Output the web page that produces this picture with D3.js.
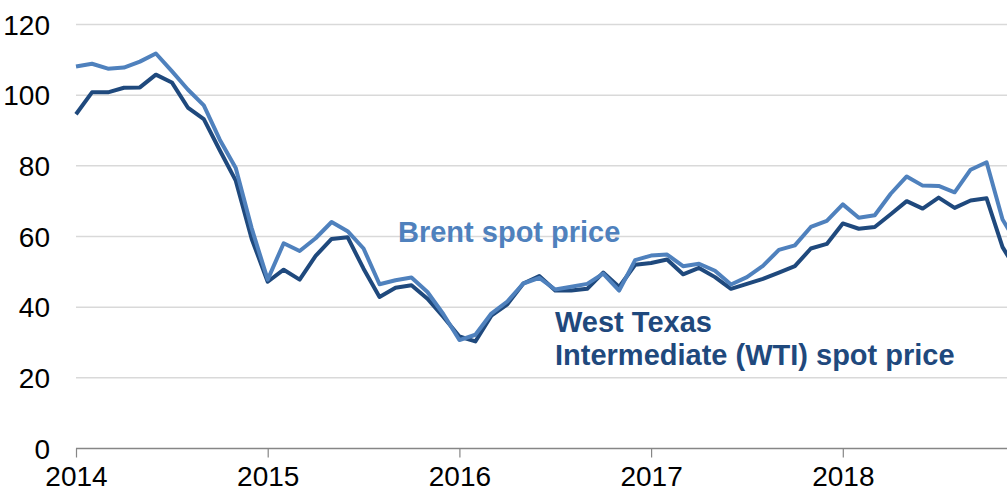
<!DOCTYPE html>
<html>
<head>
<meta charset="utf-8">
<script src="https://cdn.jsdelivr.net/npm/d3@7"></script>
<style>
  body { margin: 0; background: #fff; }
  svg { display: block; font-family: "Liberation Sans", Arial, sans-serif; }
</style>
</head>
<body>
<div id="chart"></div>
<script>
// monthly spot prices, dollars per barrel, Jan 2014 .. Dec 2018
const years = [2014, 2015, 2016, 2017, 2018];
const yTicks = [0, 20, 40, 60, 80, 100, 120];

const brent = [
  108.1, 108.9, 107.5, 107.8, 109.5, 111.8, 106.8, 101.6, 97.1, 87.4, 79.4, 62.3,
  47.8, 58.1, 55.9, 59.5, 64.1, 61.5, 56.6, 46.5, 47.6, 48.4, 44.3, 38.0,
  30.7, 32.2, 38.2, 41.6, 46.7, 48.3, 45.0, 45.8, 46.6, 49.5, 44.7, 53.3,
  54.6, 54.9, 51.6, 52.3, 50.3, 46.4, 48.5, 51.7, 56.2, 57.5, 62.7, 64.4,
  69.1, 65.3, 66.0, 72.1, 77.0, 74.4, 74.3, 72.5, 78.9, 81.0, 64.8, 57.4
];
const wti = [
  94.6, 100.8, 100.8, 102.1, 102.2, 105.8, 103.6, 96.5, 93.2, 84.4, 75.8, 59.3,
  47.2, 50.6, 47.8, 54.5, 59.3, 59.8, 50.9, 42.9, 45.5, 46.2, 42.4, 37.2,
  31.7, 30.3, 37.6, 40.8, 46.7, 48.8, 44.7, 44.7, 45.2, 49.8, 45.7, 52.0,
  52.5, 53.5, 49.3, 51.1, 48.5, 45.2, 46.6, 48.0, 49.8, 51.6, 56.6, 57.9,
  63.7, 62.2, 62.7, 66.3, 70.0, 67.9, 71.0, 68.1, 70.2, 70.8, 57.0, 49.5
];

const W = 1007, H = 494;
const left = 76, zeroY = 448.5, topY = 24.5;
const yearPx = 191.7;

const svg = d3.select("#chart").append("svg")
  .attr("width", W).attr("height", H);

// x in months since Jan 2014
const x = d3.scaleLinear()
  .domain([0, 60])
  .range([left, left + 5 * yearPx]);

const y = d3.scaleLinear()
  .domain([0, 120])
  .range([zeroY, topY]);

// grid lines
svg.append("g")
  .selectAll("line")
  .data(yTicks.filter(d => d > 0))
  .enter().append("line")
  .attr("x1", left).attr("x2", W)
  .attr("y1", d => y(d)).attr("y2", d => y(d))
  .attr("stroke", "#d9d9d9").attr("stroke-width", 1.5);

// y labels
svg.append("g")
  .selectAll("text")
  .data(yTicks)
  .enter().append("text")
  .attr("x", 50)
  .attr("y", d => y(d))
  .attr("dy", "0.36em")
  .attr("text-anchor", "end")
  .style("font-size", "28px")
  .attr("fill", "#000")
  .text(d => d);

// x axis
const xAxis = d3.axisBottom(x)
  .tickValues(years.map(yr => (yr - 2014) * 12))
  .tickSize(9)
  .tickPadding(9)
  .tickFormat(d => 2014 + d / 12);

const gx = svg.append("g")
  .attr("transform", `translate(0,${zeroY})`)
  .call(xAxis);
gx.select(".domain").remove();
gx.selectAll(".tick line").attr("stroke", "#868686").attr("stroke-width", 1.2);
gx.selectAll(".tick text")
  .style("font-size", "28px")
  .attr("fill", "#000")
  .attr("font-family", "'Liberation Sans', Arial, sans-serif");
gx.append("line")
  .attr("x1", left).attr("x2", W)
  .attr("y1", 0).attr("y2", 0)
  .attr("stroke", "#868686").attr("stroke-width", 1.5);

// lines
const line = d3.line()
  .x((d, i) => x(i))
  .y(d => y(d));

svg.append("path")
  .datum(wti)
  .attr("fill", "none")
  .attr("stroke", "#1f497d")
  .attr("stroke-width", 4)
  .attr("stroke-linejoin", "round")
  .attr("d", line);

svg.append("path")
  .datum(brent)
  .attr("fill", "none")
  .attr("stroke", "#4f81bd")
  .attr("stroke-width", 4)
  .attr("stroke-linejoin", "round")
  .attr("d", line);

// series labels
svg.append("text")
  .attr("x", 398).attr("y", 242)
  .attr("fill", "#4f81bd")
  .style("font-size", "29px").style("font-weight", "bold")
  .text("Brent spot price");

const wtiLabel = svg.append("text")
  .attr("x", 555).attr("y", 332)
  .attr("fill", "#1f497d")
  .style("font-size", "29px").style("font-weight", "bold");
wtiLabel.append("tspan").attr("x", 555).text("West Texas");
wtiLabel.append("tspan").attr("x", 555).attr("dy", 33).text("Intermediate (WTI) spot price");
</script>
</body>
</html>
